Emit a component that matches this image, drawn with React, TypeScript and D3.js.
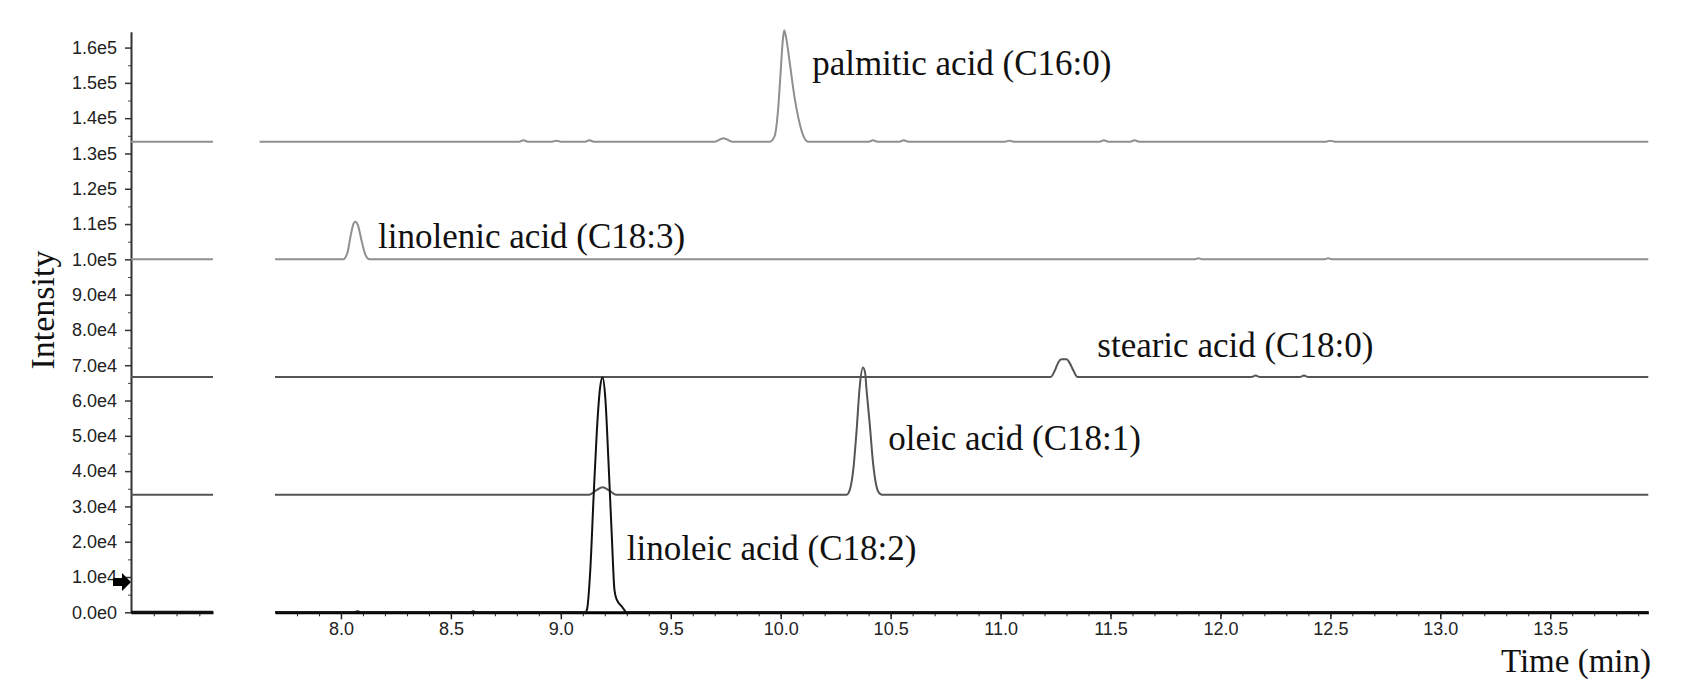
import { useEffect, useRef } from "react";
import * as d3 from "d3";

// trace values are [time (min), intensity above the trace's own baseline]
const palmitic = [
  [7.63, 0], [8.81, 0], [8.83, 400], [8.85, 0], [8.96, 0], [8.98, 300], [9.0, 0],
  [9.11, 0], [9.13, 400], [9.15, 0], [9.7, 0], [9.74, 1000], [9.78, 0],
  [9.95, 0], [9.972, 1500], [9.988, 9000], [10.0, 20000], [10.01, 29000], [10.016, 31600],
  [10.026, 29000], [10.042, 22000], [10.062, 13000], [10.083, 6000], [10.104, 1500], [10.125, 0],
  [10.4, 0], [10.42, 400], [10.44, 0], [10.54, 0], [10.56, 400], [10.58, 0],
  [11.02, 0], [11.04, 300], [11.06, 0], [11.45, 0], [11.47, 400], [11.49, 0],
  [11.59, 0], [11.61, 400], [11.63, 0], [12.48, 0], [12.5, 300], [12.52, 0], [13.946, 0],
];
const linolenic = [
  [7.7, 0], [8.01, 0], [8.03, 2000], [8.045, 7000], [8.058, 10200], [8.066, 10650],
  [8.078, 9500], [8.093, 5500], [8.11, 1500], [8.13, 0],
  [11.88, 0], [11.9, 300], [11.92, 0], [12.47, 0], [12.49, 300], [12.51, 0], [13.946, 0],
];
const stearic = [
  [7.7, 0], [11.228, 0], [11.248, 2000], [11.263, 4200], [11.278, 5000], [11.3, 5000],
  [11.314, 4000], [11.33, 2000], [11.35, 0],
  [12.14, 0], [12.16, 400], [12.18, 0], [12.36, 0], [12.38, 400], [12.4, 0], [13.946, 0],
];
const oleic = [
  [7.7, 0], [9.13, 0], [9.16, 1200], [9.19, 2100], [9.22, 1200], [9.25, 0],
  [10.3, 0], [10.315, 1500], [10.33, 7000], [10.345, 18000], [10.36, 31000], [10.374, 36000],
  [10.384, 34500], [10.39, 30000], [10.405, 20000], [10.42, 9000], [10.435, 2500], [10.45, 300],
  [10.46, 0], [13.946, 0],
];
const linoleic = [
  [7.7, 0], [8.06, 0], [8.077, 300], [8.09, 0], [8.59, 0], [8.6, 300], [8.615, 0],
  [9.112, 0], [9.119, 800], [9.134, 12000], [9.149, 32700], [9.164, 51600], [9.179, 63900],
  [9.19, 66500], [9.202, 61000], [9.217, 42300], [9.232, 21400], [9.244, 6300], [9.255, 3500],
  [9.278, 1600], [9.3, 0], [13.946, 0],
];

const traces = [palmitic, linolenic, stearic, oleic, linoleic];
const names = ["palmitic acid (C16:0)", "linolenic acid (C18:3)", "stearic acid (C18:0)", "oleic acid (C18:1)", "linoleic acid (C18:2)"];
const offsets = [133333, 100000, 66667, 33333, 0];
const labelTimes = [10.143, 8.169, 11.44, 10.489, 9.3];
const labelIntensity = [152200, 103200, 72300, 46000, 14800];

const xTicks = [8.0, 8.5, 9.0, 9.5, 10.0, 10.5, 11.0, 11.5, 12.0, 12.5, 13.0, 13.5];
const yTicks = [0, 10000, 20000, 30000, 40000, 50000, 60000, 70000, 80000, 90000, 100000,
  110000, 120000, 130000, 140000, 150000, 160000];

const colors = ["#8f8f8f", "#8f8f8f", "#555", "#555", "#111"];
const W = 1686, H = 696;

export default function App() {
  const svgRef = useRef<SVGSVGElement>(null);

  useEffect(() => {
    const svg = d3.select(svgRef.current);
    svg.selectAll("*").remove();

    const x = d3.scaleLinear().domain([7.7, 13.946]).range([275, 1648.3]);
    const y = d3.scaleLinear().domain([0, 164500]).range([612.3, 31.7]);
    const stub = d3.scaleLinear().domain([0, 3.6]).range([131, 213]);

    // y axis (minor + major)
    const yMinor = svg.append("g").attr("transform", `translate(${stub(0)},0)`)
      .call(d3.axisLeft(y).tickValues(d3.range(5000, 164000, 10000)).tickSize(3).tickFormat(() => ""));
    yMinor.select(".domain").remove();
    yMinor.selectAll("line").attr("stroke", "#444");
    const yAx = svg.append("g").attr("transform", `translate(${stub(0)},0)`)
      .call(d3.axisLeft(y).tickValues(yTicks).tickSize(6).tickPadding(8).tickSizeOuter(0)
        .tickFormat((d: any) => d.toExponential(1).replace("+", "")));
    yAx.select(".domain").attr("stroke", "#333").attr("stroke-width", 2);
    yAx.selectAll("line").attr("stroke", "#333").attr("stroke-width", 1.5);
    yAx.selectAll("text").attr("font-family", "Liberation Sans, Arial, sans-serif")
      .attr("font-size", 18).attr("fill", "#222");

    // left stub bottom axis
    const sAx = svg.append("g").attr("transform", `translate(0,${y(0)})`)
      .call(d3.axisBottom(stub).tickValues([1, 2, 3]).tickSize(4).tickSizeOuter(0).tickFormat(() => ""));
    sAx.select(".domain").attr("stroke", "#000").attr("stroke-width", 3);
    sAx.selectAll("line").attr("stroke", "#222");

    // main x axis
    const xMinor = svg.append("g").attr("transform", `translate(0,${y(0)})`)
      .call(d3.axisBottom(x).tickValues(d3.range(7.8, 13.95, 0.1)).tickSize(4).tickFormat(() => ""));
    xMinor.select(".domain").remove();
    xMinor.selectAll("line").attr("stroke", "#222");
    const xAx = svg.append("g").attr("transform", `translate(0,${y(0)})`)
      .call(d3.axisBottom(x).tickValues(xTicks).tickSize(7).tickSizeOuter(0).tickFormat(d3.format(".1f")));
    xAx.select(".domain").attr("stroke", "#000").attr("stroke-width", 3);
    xAx.selectAll("line").attr("stroke", "#222").attr("stroke-width", 1.5);
    xAx.selectAll("text").attr("font-family", "Liberation Sans, Arial, sans-serif")
      .attr("font-size", 18).attr("fill", "#222");

    // baselines in left stub
    offsets.forEach((o, i) => {
      svg.append("line")
        .attr("x1", stub(0)).attr("x2", stub(3.6))
        .attr("y1", y(o)).attr("y2", y(o))
        .attr("stroke", colors[i]).attr("stroke-width", i === 4 ? 3 : 2);
    });

    // traces
    traces.forEach((pts, i) => {
      const line = d3.line<number[]>()
        .x(d => x(d[0]))
        .y(d => y(d[1] + offsets[i]))
        .curve(d3.curveMonotoneX);
      svg.append("path")
        .datum(pts)
        .attr("fill", "none")
        .attr("stroke", colors[i])
        .attr("stroke-width", 2)
        .attr("d", line);
    });

    // peak labels
    names.forEach((n, i) => {
      svg.append("text")
        .attr("x", x(labelTimes[i])).attr("y", y(labelIntensity[i]))
        .attr("font-family", "Liberation Serif, Times New Roman, serif")
        .attr("font-size", 35).attr("fill", "#111")
        .text(n);
    });

    // arrow marker on y axis
    const ay = y(8600), ax = stub(0);
    svg.append("path")
      .attr("d", `M${ax - 18},${ay - 4} L${ax - 9},${ay - 4} L${ax - 9},${ay - 9} L${ax},${ay} L${ax - 9},${ay + 9} L${ax - 9},${ay + 4} L${ax - 18},${ay + 4} Z`)
      .attr("fill", "#000");

    // axis titles
    svg.append("text")
      .attr("transform", `translate(54,${310}) rotate(-90)`)
      .attr("text-anchor", "middle")
      .attr("font-family", "Liberation Serif, Times New Roman, serif")
      .attr("font-size", 34).attr("fill", "#111")
      .text("Intensity");
    svg.append("text")
      .attr("x", 1651).attr("y", 672)
      .attr("text-anchor", "end")
      .attr("font-family", "Liberation Serif, Times New Roman, serif")
      .attr("font-size", 33).attr("fill", "#111")
      .text("Time (min)");
  }, []);

  return (
    <svg ref={svgRef} width={W} height={H}
      style={{ position: "absolute", left: 0, top: 0, background: "#fff", display: "block" }} />
  );
}
